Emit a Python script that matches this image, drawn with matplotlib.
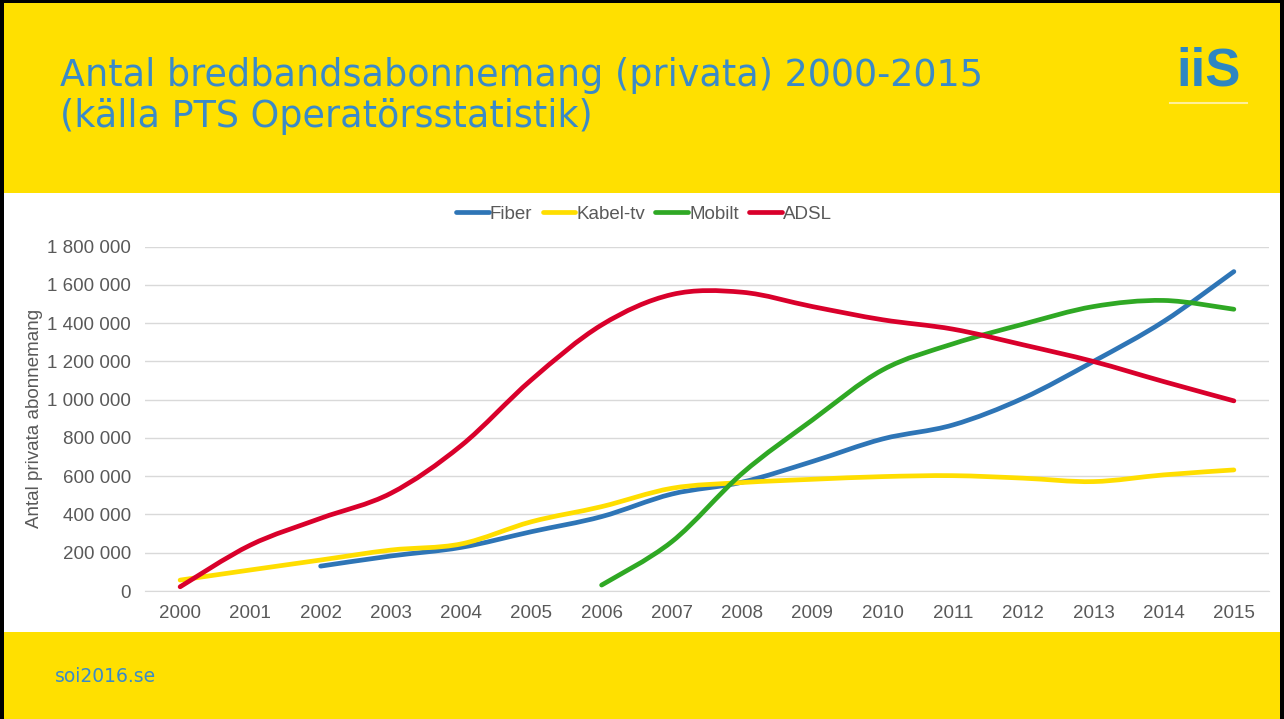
import numpy as np
import matplotlib.pyplot as plt
from matplotlib.path import Path
from matplotlib.patches import PathPatch, Rectangle
from matplotlib.lines import Line2D

years = list(range(2000, 2016))
fiber = [None, None, 130000, 183000, 228000, 310000, 389000, 507000, 569000,
         677000, 795000, 868000, 1008000, 1200000, 1409000, 1670000]
kabel = [57000, 110000, 162000, 214000, 246000, 362000, 441000, 537000, 567000,
         584000, 598000, 603000, 590000, 572000, 607000, 633000]
mobilt = [None, None, None, None, None, None, 31000, 258000, 615000,
          894000, 1156000, 1292000, 1395000, 1487000, 1519000, 1473000]
adsl = [22000, 240000, 380000, 511000, 760000, 1104000, 1391000, 1550000, 1562000,
        1487000, 1418000, 1369000, 1287000, 1200000, 1095000, 994000]

series = [("Fiber", fiber, "#2E75B6"), ("Kabel-tv", kabel, "#FFDE00"),
          ("Mobilt", mobilt, "#2FA824"), ("ADSL", adsl, "#D9002B")]

YELLOW = "#FFE000"
BLUE = "#3A8AC8"
GRAY = "#595959"
ARIAL = "Liberation Sans"


def smooth_path(xs, ys):
    # Excel-like smoothed line: cubic bezier with catmull-rom control points
    pts = np.column_stack([xs, ys]).astype(float)
    n = len(pts)
    verts = [pts[0]]
    codes = [Path.MOVETO]
    for i in range(n - 1):
        p0 = pts[i - 1] if i > 0 else pts[i]
        p1 = pts[i]
        p2 = pts[i + 1]
        p3 = pts[i + 2] if i + 2 < n else pts[i + 1]
        c1 = p1 + (p2 - p0) / 6.0
        c2 = p2 - (p3 - p1) / 6.0
        verts += [c1, c2, p2]
        codes += [Path.CURVE4] * 3
    return Path(verts, codes)


fig = plt.figure(figsize=(12.84, 7.19), dpi=100)
W, H = 1284, 719

# background bands
fig.patches.append(Rectangle((0, 0), 1, 1, transform=fig.transFigure,
                             facecolor="white", zorder=-10))
fig.patches.append(Rectangle((0, 1 - 193 / H), 1, 193 / H, transform=fig.transFigure,
                             facecolor=YELLOW, zorder=-9))
fig.patches.append(Rectangle((0, 0), 1, 87 / H, transform=fig.transFigure,
                             facecolor=YELLOW, zorder=-9))
# black frame on left, top, right
fig.patches.append(Rectangle((0, 0), 4 / W, 1, transform=fig.transFigure,
                             facecolor="black", zorder=-8))
fig.patches.append(Rectangle((0, 1 - 3 / H), 1, 3 / H, transform=fig.transFigure,
                             facecolor="black", zorder=-8))
fig.patches.append(Rectangle((1 - 4 / W, 0), 4 / W, 1, transform=fig.transFigure,
                             facecolor="black", zorder=-8))

# title
fig.text(60 / W, 1 - 86 / H, "Antal bredbandsabonnemang (privata) 2000-2015",
         fontsize=26.3, color=BLUE, family="DejaVu Sans", va="baseline", ha="left")
fig.text(60 / W, 1 - 127 / H, "(källa PTS Operatörsstatistik)",
         fontsize=26.3, color=BLUE, family="DejaVu Sans", va="baseline", ha="left")

# logo
fig.text(1209 / W, 1 - 85 / H, "iiS", fontsize=38, fontweight="bold",
         color="#2E86C1", family="Liberation Sans", ha="center", va="baseline")
fig.lines.append(Line2D([1170 / W, 1247 / W], [1 - 103 / H, 1 - 103 / H],
                        transform=fig.transFigure, color="#FFF09A", lw=1.5))

# footer
fig.text(55 / W, 1 - 682 / H, "soi2016.se", fontsize=13.5, color=BLUE,
         family="DejaVu Sans", ha="left", va="baseline")

ax = fig.add_axes([145 / W, 1 - 591 / H, (1269 - 145) / W, (591 - 246.7) / H])
ax.set_facecolor("none")

x = np.arange(len(years))
for name, vals, color in series:
    idx = [i for i, v in enumerate(vals) if v is not None]
    xs = x[idx]
    ys = [vals[i] for i in idx]
    path = smooth_path(xs, ys)
    ax.add_patch(PathPatch(path, facecolor="none", edgecolor=color, lw=3.4,
                           capstyle="round", joinstyle="round"))
    ax.plot([], [], color=color, lw=3.4, solid_capstyle="round", label=name)

ax.set_xlim(-0.5, len(years) - 0.5)
ax.set_ylim(0, 1800000)
ax.set_xticks(x)
ax.set_xticklabels([str(y) for y in years], family=ARIAL)
yt = np.arange(0, 1800001, 200000)
ax.set_yticks(yt)
ax.set_yticklabels([f"{int(v):,}".replace(",", " ") for v in yt], family=ARIAL)
ax.tick_params(length=0, labelsize=13.5, labelcolor=GRAY, pad=10)
ax.grid(axis="y", color="#D9D9D9", lw=1)
ax.set_axisbelow(True)
for s in ["top", "right", "left"]:
    ax.spines[s].set_visible(False)
ax.spines["bottom"].set_color("#D9D9D9")
ax.set_ylabel("Antal privata abonnemang", fontsize=13.5, color=GRAY,
              family=ARIAL, labelpad=3)

leg = ax.legend(ncol=4, loc="center", bbox_to_anchor=(644 / W, 1 - 214 / H),
                bbox_transform=fig.transFigure, frameon=False,
                prop={"family": ARIAL, "size": 13.5},
                handlelength=1.75, handletextpad=0.05, columnspacing=0.55)
for t in leg.get_texts():
    t.set_color(GRAY)

fig.savefig("out.png", dpi=100)
